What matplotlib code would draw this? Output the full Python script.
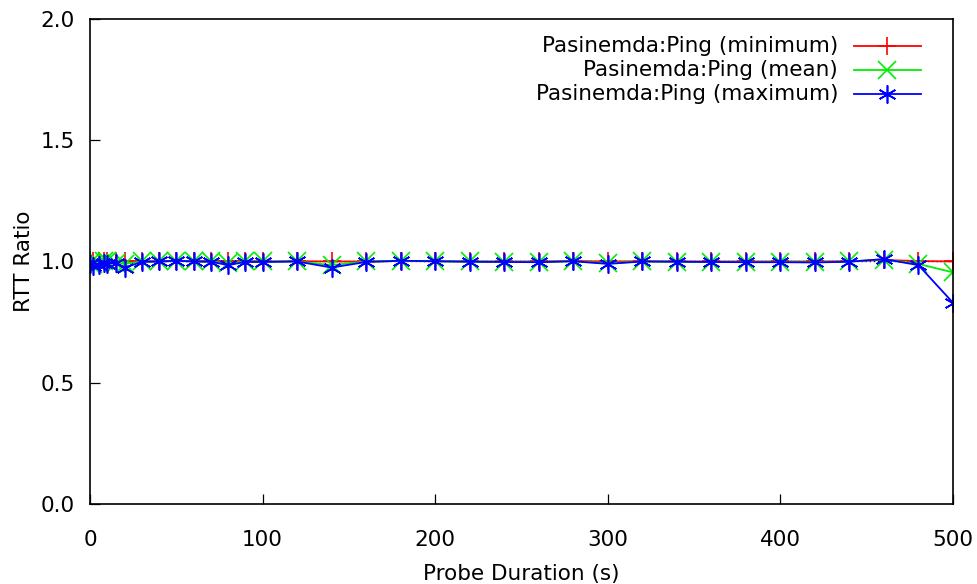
import numpy as np
import matplotlib
matplotlib.use('Agg')
import matplotlib.pyplot as plt

# Probe durations (s) and RTT ratios for each statistic
duration = [0, 2, 5, 8, 10, 15, 20, 30, 40, 50, 60, 70, 80, 90, 100,
            120, 140, 160, 180, 200, 220, 240, 260, 280, 300,
            320, 340, 360, 380, 400, 420, 440, 460, 480, 500]
ratio_min = [1.000, 1.002, 1.001, 1.000, 1.002, 1.001, 1.000, 1.001, 1.000, 1.002,
             1.001, 1.000, 1.001, 1.000, 1.000, 1.001, 1.000, 1.000, 1.002, 1.001,
             1.000, 1.000, 1.000, 1.002, 1.000, 1.001, 1.000, 1.000, 1.000, 1.000,
             1.000, 1.001, 1.006, 1.002, 1.000]
ratio_mean = [0.995, 0.990, 0.995, 1.000, 1.000, 0.995, 0.990, 1.000, 1.000, 1.003,
              1.000, 1.000, 0.993, 1.000, 1.000, 1.000, 0.985, 1.000, 1.002, 1.001,
              1.000, 0.999, 0.998, 1.001, 0.993, 1.000, 0.999, 0.998, 0.998, 0.998,
              0.997, 1.000, 1.008, 0.990, 0.955]
ratio_max = [0.990, 0.980, 0.985, 0.995, 0.990, 0.995, 0.975, 0.998, 1.000, 1.003,
             1.000, 0.999, 0.985, 0.998, 0.998, 1.000, 0.975, 0.998, 1.003, 1.001,
             0.999, 0.998, 0.997, 1.001, 0.990, 1.000, 0.999, 0.998, 0.997, 0.997,
             0.996, 0.999, 1.010, 0.985, 0.830]

series = [
    ("Pasinemda:Ping (minimum)", ratio_min, '#ff0000', '+'),
    ("Pasinemda:Ping (mean)", ratio_mean, '#00ee00', 'x'),
    ("Pasinemda:Ping (maximum)", ratio_max, '#0000ff', (6, 2, 0)),
]

plt.rcParams['font.family'] = 'DejaVu Sans'
plt.rcParams['font.size'] = 15.5

fig = plt.figure(figsize=(9.77, 5.84), dpi=100)
ax = fig.add_axes([0.0921, 0.137, 0.8833, 0.8305])

# unity reference
ax.axhline(1.0, color='black', lw=1.0, ls=(0, (1, 2)), zorder=1)

for label, vals, col, mk in series:
    ax.plot(duration, vals, color=col, lw=1.3, marker=mk, ms=13,
            mew=1.2, zorder=2)

# gnuplot-style key: text right-aligned, sample to its right
for i, (label, vals, col, mk) in enumerate(series):
    y = 0.944 - i * 0.0495
    ax.plot([0.885, 0.963], [y, y], color=col, lw=1.3,
            transform=ax.transAxes, clip_on=False)
    ax.plot([0.924], [y], color=col, marker=mk, ms=13, mew=1.2,
            transform=ax.transAxes, clip_on=False)
    ax.text(0.867, y, label, ha='right', va='center', transform=ax.transAxes)

ax.set_xlim(0, 500)
ax.set_ylim(0, 2.0)
ax.set_xticks(np.arange(0, 501, 100))
ax.set_yticks(np.arange(0, 2.01, 0.5))
ax.yaxis.set_major_formatter(matplotlib.ticker.FormatStrFormatter('%.1f'))
ax.tick_params(direction='in', length=7, width=0.9, pad=11)
ax.tick_params(axis='x', pad=19)
for s in ax.spines.values():
    s.set_linewidth(1.2)
ax.set_xlabel("Probe Duration (s)", labelpad=10)
ax.set_ylabel("RTT Ratio", labelpad=5)

fig.savefig('out.png', dpi=100)
